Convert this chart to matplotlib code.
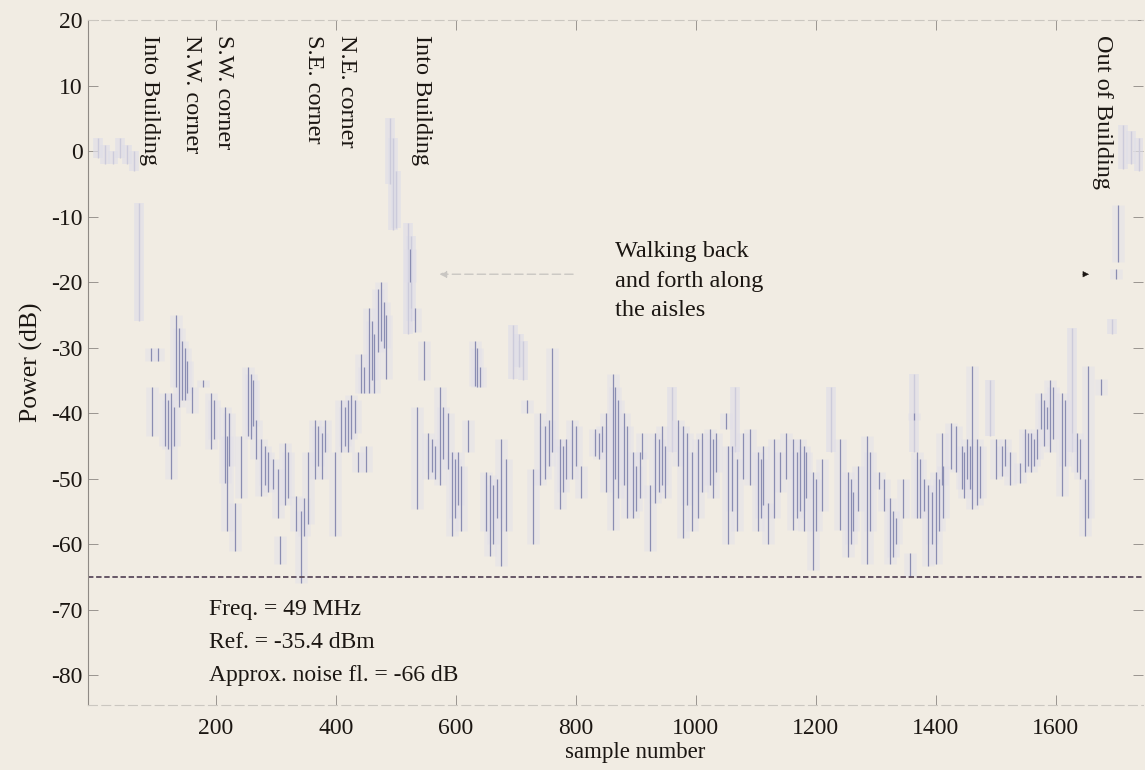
import numpy as np
import matplotlib.pyplot as plt

plt.rcParams['font.family'] = ['Liberation Serif', 'DejaVu Serif']
plt.rcParams['axes.unicode_minus'] = False

# received power, drawn as vertical strokes: sample, top (dB), bottom (dB)
stroke_x = [91, 93, 103, 115, 120, 125, 130, 134, 138, 143, 148, 152, 160, 178, 192,
            197, 215, 218, 222, 231, 242, 253, 258, 262, 266, 275, 282, 287, 295, 303,
            306, 315, 320, 334, 342, 347, 353, 365, 370, 376, 382, 398, 409, 415, 420,
            425, 431, 437, 442, 447, 451, 456, 460, 464, 470, 475, 481, 484, 524, 532,
            535, 547, 554, 560, 565, 573, 579, 587, 593, 598, 603, 609, 620, 632, 636,
            640, 651, 657, 662, 668, 676, 684, 718, 729, 740, 748, 755, 760, 773, 778,
            784, 793, 801, 808, 832, 838, 843, 850, 862, 866, 870, 880, 886, 895, 901,
            907, 910, 923, 932, 938, 944, 948, 970, 979, 985, 993, 1004, 1010, 1023,
            1028, 1034, 1050, 1054, 1060, 1068, 1078, 1090, 1104, 1108, 1112, 1121,
            1131, 1140, 1150, 1162, 1168, 1174, 1180, 1184, 1196, 1201, 1210, 1240,
            1254, 1258, 1262, 1270, 1285, 1290, 1306, 1313, 1323, 1328, 1334, 1345,
            1357, 1363, 1368, 1374, 1380, 1387, 1393, 1400, 1405, 1410, 1412, 1426,
            1434, 1443, 1447, 1452, 1457, 1461, 1468, 1474, 1500, 1510, 1515, 1523,
            1540, 1548, 1553, 1558, 1563, 1568, 1576, 1580, 1585, 1590, 1596, 1610,
            1615, 1635, 1640, 1648, 1654, 1676, 1701, 1704]
stroke_top = [-30, -36, -30, -37, -38, -37, -39, -25, -27, -29, -30, -32, -36, -35, -37,
              -38, -39, -43.5, -40, -53.7, -43.5, -33, -34, -35, -41, -44, -45, -46, -47, -48.6,
              -58.8, -44.5, -46, -52.6, -55, -53, -46, -41, -42, -43, -41, -46, -38, -39, -38,
              -37.3, -38, -46, -31, -33, -45, -24, -26, -28, -21, -20, -23, -25, -15, -24,
              -39, -29, -43, -44, -45, -36, -39, -40, -46, -47, -46, -48, -41, -29, -30,
              -33, -49, -49.5, -51, -50, -44, -47, -38, -48.6, -40, -42, -41, -30, -44, -45,
              -44, -41, -42, -48, -42.5, -43, -42, -40, -34, -36, -38, -40, -42, -46, -48,
              -46, -43, -51, -43, -44, -42, -45, -41, -42, -43, -46, -44, -43, -42.5,
              -44, -43, -40, -45, -45, -47, -43, -42.5, -46, -47, -45, -53.7,
              -44, -46, -43, -44, -46, -44, -45, -46, -49, -50, -47, -44,
              -49, -50, -52, -48, -43.5, -46, -49, -50, -53, -55, -56, -50,
              -61.3, -40, -46, -47, -50, -51, -52, -49, -50, -43, -48, -41.5,
              -42, -45, -46, -44, -45, -32.8, -44, -45, -44, -45, -44, -46,
              -47.6, -42.5, -43, -43, -44, -42.5, -37, -38, -39, -35, -36, -37,
              -38, -43, -44, -50, -32.8, -34.8, -18, -8.3]
stroke_bot = [-32, -43.5, -32, -45, -45.5, -50, -45, -36, -39, -38, -38, -37, -40, -36, -45.5,
              -44, -50.6, -58, -48, -61, -53, -43.5, -44, -42, -47, -52.6, -51, -52, -51.6, -56,
              -63, -54, -53, -58, -66, -58.8, -57, -50, -48, -50, -46, -58.8, -46, -45, -46,
              -44, -43, -49, -37, -37, -49, -37, -35, -37, -30.7, -29, -30, -34.8, -20, -27.6,
              -54.7, -35, -50, -49, -50, -51, -47, -48.6, -58.8, -56, -54, -58, -46, -35.8, -36,
              -36, -58, -61.8, -60, -56, -63.4, -58, -40, -60, -51, -50, -48, -46, -54.7, -52,
              -50, -50, -48, -53, -46.5, -47, -46, -52, -57.8, -50, -53, -51, -56, -56, -55,
              -53, -47, -61, -53.7, -52, -51, -53, -48, -59, -54, -58, -56, -52, -51,
              -53, -49, -42.4, -60, -55, -58, -50, -51, -58, -56, -54, -60,
              -56, -52, -50, -57.8, -56, -55, -58, -53, -64, -58, -55, -57.8,
              -62, -60, -58, -55, -63, -58, -51.6, -55, -63, -62, -60, -56,
              -65, -41, -56, -56, -55, -63.4, -60, -63, -58, -51, -56, -48.6,
              -49, -51.6, -53, -50, -51.6, -54.7, -54, -53, -50, -49.6, -48, -51,
              -50.6, -49, -48, -49, -48, -47, -42.5, -45, -42.5, -46, -44, -52.6,
              -48, -49, -50, -58.8, -56, -37.3, -19.5, -17]

# faded parts of the trace (mostly the high-level stretches outside the building)
faint_x = [4, 15, 28, 40, 52, 64, 72, 490, 495, 501, 521, 526, 695, 705, 712, 960,
           1065, 1225, 1363, 1490, 1627, 1693, 1712, 1725, 1738]
faint_top = [2, 1, 0, 2, 1, 0, -8, 5, 2, -3, -11, -13, -26.6, -28, -29, -36,
             -36, -36, -34, -35, -27, -25.6, 4, 3, 2]
faint_bot = [-1, -2, -2, -1, -2, -3, -26, -5, -12, -11.8, -28, -26, -34.8, -33, -35, -46,
             -46, -46, -46, -43.5, -46, -28, -2.7, -2, -3]

noise_floor = -65

events = [(90, 'Into Building'), (160, 'N.W. corner'), (213, 'S.W. corner'),
          (362, 'S.E. corner'), (418, 'N.E. corner'), (543, 'Into Building'),
          (1678, 'Out of Building')]

walking = ['Walking back', 'and forth along', 'the aisles']
info = ['Freq. = 49 MHz', 'Ref. = -35.4 dBm', 'Approx. noise fl. = -66 dB']

paper = '#f1ece3'
ink = '#1b1612'

fig = plt.figure(figsize=(11.45, 7.7), dpi=100)
fig.patch.set_facecolor(paper)
ax = fig.add_axes([0.077, 0.084, 0.921, 0.890])
ax.set_facecolor(paper)

# soft halo, then the printed strokes
ax.vlines(faint_x, faint_bot, faint_top, color='#e0dfe8', lw=7, alpha=0.7)
ax.vlines(faint_x, faint_bot, faint_top, color='#cccbdb', lw=1.0)
ax.vlines(stroke_x, stroke_bot, stroke_top, color='#e1dfea', lw=9, alpha=0.45)
ax.vlines(stroke_x, stroke_bot, stroke_top, color='#8a8db2', lw=0.9)

ax.axhline(noise_floor, color='#5b4b5c', lw=1.3, ls=(0, (3, 1.5)))

for xs, label in events:
    ax.text(xs, 17.7, label, rotation=270, ha='center', va='top',
            fontsize=17.5, color=ink)

for i, line in enumerate(walking):
    ax.text(865, -15.4 - 4.5 * i, line, fontsize=17.5, color=ink,
            va='center', ha='left')
ax.annotate('', xy=(568, -18.8), xytext=(800, -18.8),
            arrowprops=dict(arrowstyle='-|>', color='#c9c6c2', lw=1,
                            linestyle=(0, (6, 3)), mutation_scale=10))
ax.annotate('', xy=(1660, -18.8), xytext=(1640, -18.8),
            arrowprops=dict(arrowstyle='-|>', color=ink, lw=0.3,
                            mutation_scale=10))

for i, line in enumerate(info):
    ax.text(188, -70 - 5 * i, line, fontsize=17, color=ink,
            va='center', ha='left')

ax.set_xlim(-13, 1745)
ax.set_ylim(-84.6, 20)
ax.set_xticks(range(200, 1601, 200))
ax.set_yticks(range(-80, 21, 10))
ax.tick_params(direction='in', length=7, width=0.7, color='#9a9590',
               labelsize=17, labelcolor=ink, top=True, right=True)
ax.tick_params(axis='x', pad=9)
ax.tick_params(axis='y', pad=4)
for side in ['top', 'bottom']:
    ax.spines[side].set_color('#cbc7c0')
    ax.spines[side].set_linestyle((0, (8, 4)))
    ax.spines[side].set_linewidth(0.8)
ax.spines['right'].set_visible(False)
ax.spines['left'].set_color('#8f8a85')
ax.spines['left'].set_linewidth(0.8)

ax.set_xlabel('sample number', fontsize=16.5, color=ink)
ax.xaxis.set_label_coords(0.519, -0.053)
ax.set_ylabel('Power (dB)', fontsize=18.5, color=ink, labelpad=6)

fig.savefig('out.png', dpi=100, facecolor=paper)
